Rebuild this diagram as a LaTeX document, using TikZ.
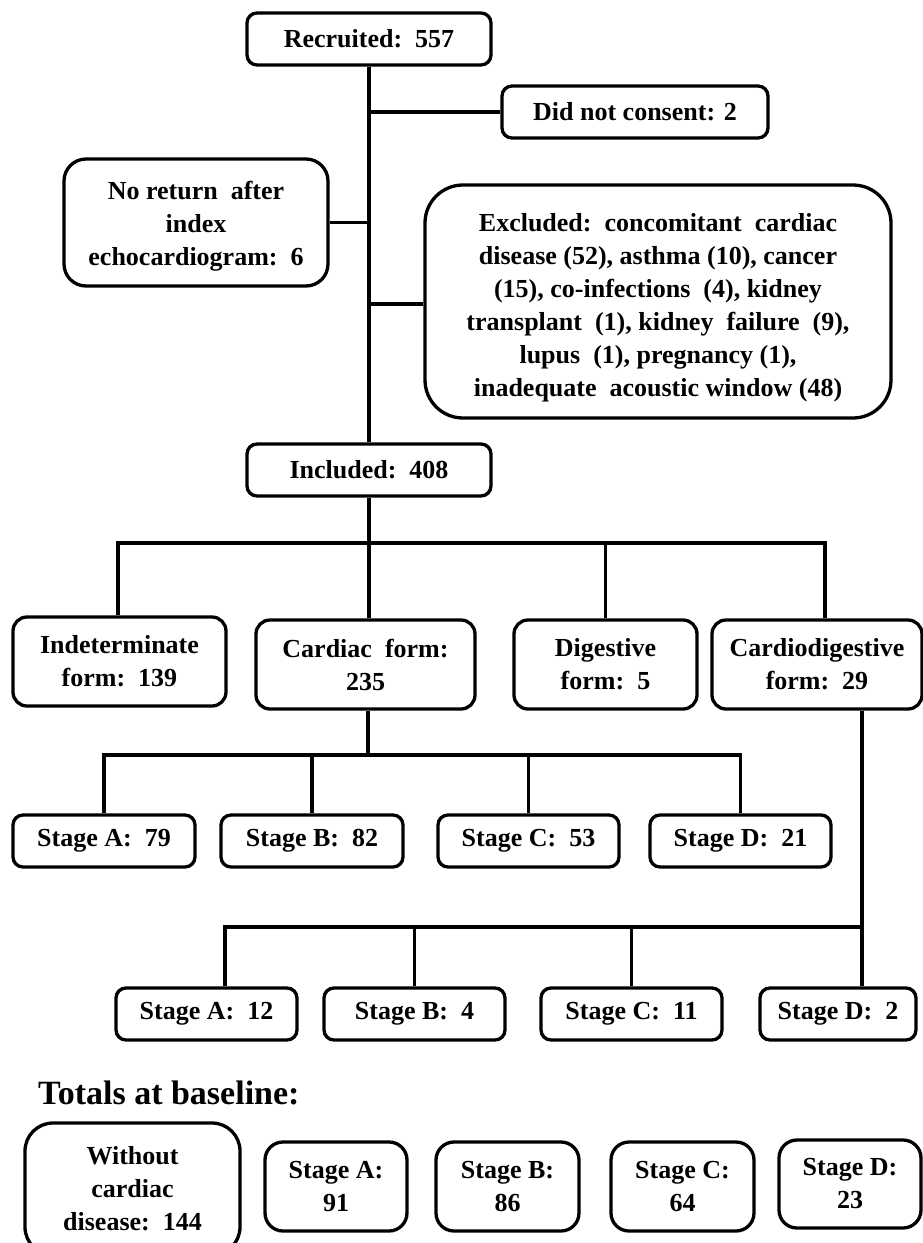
\documentclass[tikz,border=0pt]{standalone}
\usepackage{fontspec}
\setmainfont{Liberation Serif}
\begin{document}
\begin{tikzpicture}[x=1pt,y=-1pt,
  box/.style={draw, line width=3.3pt, rounded corners=10pt, align=center, inner sep=0pt,
    font=\fontsize{26}{33}\selectfont\bfseries},
  txt/.style={align=center, inner sep=0pt, font=\fontsize{26}{33}\selectfont\bfseries},
  conn/.style={line width=3.5pt}]
\useasboundingbox (0,0) rectangle (923,1243);
% top part
\node[box, minimum width=244, minimum height=52] (rec) at (369,39) {Recruited:\ \ 557};
\node[box, minimum width=266, minimum height=52] (dnc) at (635,112) {Did not consent: 2};
\node[box, minimum width=264, minimum height=127, rounded corners=22pt] (nor) at (196,222.5) {};
\node[txt] (nort) at ([yshift=-4pt]nor.center)
  {No return\ \ after\\index\\echocardiogram:\ \ 6};
\node[box, minimum width=466, minimum height=233, rounded corners=38pt] (exc) at (658,301.5) {};
\node[txt] (exct) at ([yshift=-6pt]exc.center)
  {Excluded:\ \ concomitant\ \ cardiac\\disease (52), asthma (10), cancer\\(15), co-infections\ \ (4), kidney\\transplant\ \ (1), kidney\ \ failure\ \ (9),\\lupus\ \ (1), pregnancy (1),\\inadequate\ \ acoustic window (48)};
\node[box, minimum width=244, minimum height=52] (inc) at (369,470) {Included:\ \ 408};
% forms
\node[box, minimum width=213, minimum height=89, rounded corners=14pt] (ind) at (119.5,661.5) {Indeterminate\\form:\ \ 139};
\node[box, minimum width=219, minimum height=89, rounded corners=14pt] (car) at (365.5,664.5) {Cardiac\ \ form:\\235};
\node[box, minimum width=183, minimum height=89, rounded corners=14pt] (dig) at (605.5,664.5) {Digestive\\form:\ \ 5};
\node[box, minimum width=210, minimum height=89, rounded corners=14pt] (cdg) at (817,664.5) {Cardiodigestive\\form:\ \ 29};
% stages of cardiac form
\node[box, minimum width=182, minimum height=52] (sa1) at (104,841) {Stage A:\ \ 79};
\node[box, minimum width=182, minimum height=52] (sb1) at (312,841) {Stage B:\ \ 82};
\node[box, minimum width=181, minimum height=52] (sc1) at (528.5,841) {Stage C:\ \ 53};
\node[box, minimum width=181, minimum height=52] (sd1) at (740.5,841) {Stage D:\ \ 21};
% stages of cardiodigestive form
\node[box, minimum width=181, minimum height=52] (sa2) at (206.5,1014) {Stage A:\ \ 12};
\node[box, minimum width=181, minimum height=52] (sb2) at (414.5,1014) {Stage B:\ \ 4};
\node[box, minimum width=181, minimum height=52] (sc2) at (631.5,1014) {Stage C:\ \ 11};
\node[box, minimum width=156, minimum height=52] (sd2) at (838,1014) {Stage D:\ \ 2};
% totals
\node[anchor=west, inner sep=0pt, font=\fontsize{34}{40}\selectfont\bfseries] (tot) at (38,1093) {Totals at baseline:};
\node[box, minimum width=215, minimum height=132, rounded corners=28pt] (wcd) at (132.5,1189) {Without\\cardiac\\disease:\ \ 144};
\node[box, minimum width=142, minimum height=89, rounded corners=18pt] (ta) at (336,1186.5) {Stage A:\\91};
\node[box, minimum width=143, minimum height=89, rounded corners=18pt] (tb) at (507.5,1186.5) {Stage B:\\86};
\node[box, minimum width=143, minimum height=89, rounded corners=18pt] (tc) at (682.5,1186.5) {Stage C:\\64};
\node[box, minimum width=142, minimum height=88, rounded corners=18pt] (td) at (850,1184) {Stage D:\\23};
% connectors top
\draw[conn] (rec.south) -- (inc.north);
\draw[conn] (rec.south |- dnc.west) -- (dnc.west);
\draw[conn] (nor.east) -- (nor.east -| rec.south);
\draw[conn] ([yshift=-2.5pt]exc.west -| rec.south) -- ([yshift=-2.5pt]exc.west);
% forms bus
\coordinate (bus1) at (369,543);
\coordinate (indtop) at ([xshift=-1.5pt]ind.north);
\coordinate (cdgtop) at ([xshift=8pt]cdg.north);
\draw[conn] (inc.south) -- (bus1);
\draw[conn] (indtop) |- (bus1) -| (cdgtop);
\draw[conn] (bus1) -- (bus1 |- car.north);
\draw[conn] (dig.north) -- (dig.north |- bus1);
% cardiac stages bus
\coordinate (bus2) at (368,755);
\draw[conn] (bus2 |- car.south) -- (bus2);
\draw[conn] (sa1.north) |- (bus2) -| (sd1.north);
\draw[conn] (sb1.north) -- (sb1.north |- bus2);
\draw[conn] (sc1.north) -- (sc1.north |- bus2);
% cardiodigestive stages bus
\coordinate (bus3) at (862,927);
\coordinate (a2top) at ([xshift=18.5pt]sa2.north);
\coordinate (d2top) at ([xshift=24pt]sd2.north);
\draw[conn] (bus3 |- cdg.south) -- (bus3);
\draw[conn] (a2top) |- (bus3) -- (d2top);
\draw[conn] (sb2.north) -- (sb2.north |- bus3);
\draw[conn] (sc2.north) -- (sc2.north |- bus3);
\end{tikzpicture}
\end{document}
